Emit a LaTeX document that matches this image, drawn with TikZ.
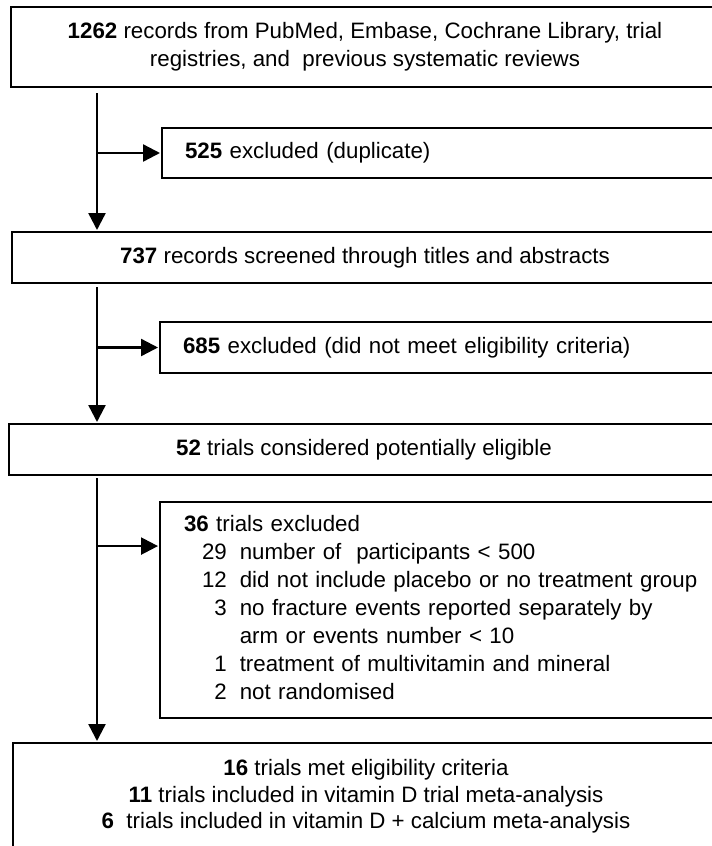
\documentclass[tikz,border=0pt]{standalone}
\usepackage{fontspec}
\setmainfont{Liberation Sans}
\usetikzlibrary{arrows.meta,calc}
\begin{document}
\begin{tikzpicture}[x=1pt,y=-1pt,
  fnt/.style={font=\fontsize{22.3}{28}\selectfont},
  box/.style={draw=black, line width=2.4pt, rectangle, inner sep=0pt, outer sep=0pt,
    anchor=north west, minimum width=620pt, fnt},
  txt/.style={inner sep=0pt, align=center, fnt},
  lbox/.style={box, align=left, inner xsep=23pt, text width=574pt},
  arr/.style={line width=2.4pt, -{Triangle[length=17pt,width=17pt]}, shorten >=2pt}
]
\useasboundingbox (0,0) rectangle (712,846);
\fill[white] (0,0) rectangle (712,846);
\clip (0,0) rectangle (712,846);

\node[box, minimum width=760pt, minimum height=80pt] (b1) at (11,7) {};
\node[txt] (t1) at ($(b1.west)+(354,0)$)
  {\textbf{1262} records from PubMed,\ Embase, Cochrane Library, trial\\registries, and\ \ previous systematic reviews};
\node[lbox, minimum height=50pt] (b2) at (162,128) {\textbf{525} excluded (duplicate)};
\node[box, minimum width=760pt, minimum height=51pt] (b3) at (12,232) {};
\node[txt] (t3) at ($(b3.west)+(353,0)$)
  {\textbf{737} records screened through titles and abstracts};
\node[lbox, minimum height=51pt] (b4) at (160,322)
  {\textbf{685} excluded (did not meet eligibility criteria)};
\node[box, minimum width=760pt, minimum height=51pt] (b5) at (9,424) {};
\node[txt] (t5) at ($(b5.west)+(355,0)$)
  {\textbf{52} trials considered potentially\ eligible};
\node[lbox, minimum height=216pt, inner xsep=24pt, text width=572pt] (b6) at (160,502)
  {\begin{tabular}{@{\hspace{18pt}}r@{\hspace{13pt}}l@{}}
    \multicolumn{2}{@{}l@{}}{\textbf{36} trials excluded}\\
    29 & number of\ \ participants < 500\\
    12 & did not include placebo or no treatment group\\
    3 & no fracture events reported separately by\\
      & arm or events number < 10\\
    1 & treatment of multivitamin and mineral\\
    2 & not randomised
  \end{tabular}};
\node[box, minimum width=760pt, minimum height=107pt] (b7) at (13,743) {};
\node[txt, font=\fontsize{22.3}{26.5}\selectfont] (t7) at ($(b7.west)+(353,0)$)
  {\textbf{16} trials met eligibility criteria\\
   \textbf{11} trials included in vitamin D trial meta-analysis\\
   \textbf{6}\ \ trials included in vitamin D + calcium meta-analysis};

\coordinate (vx) at (97,0);
\coordinate (b6in) at ($(b6.north west)!0.204!(b6.south west)$);

\draw[arr, shorten <=6pt] (b1.south west -| vx) -- (b3.north west -| vx);
\draw[arr] (vx |- b2.west) -- (b2.west);
\draw[arr, shorten <=4pt] (b3.south west -| vx) -- (b5.north west -| vx);
\draw[arr] (vx |- b4.west) -- (b4.west);
\draw[arr, shorten <=3pt] (b5.south west -| vx) -- (b7.north west -| vx);
\draw[arr] (vx |- b6in) -- (b6in);
\end{tikzpicture}
\end{document}
